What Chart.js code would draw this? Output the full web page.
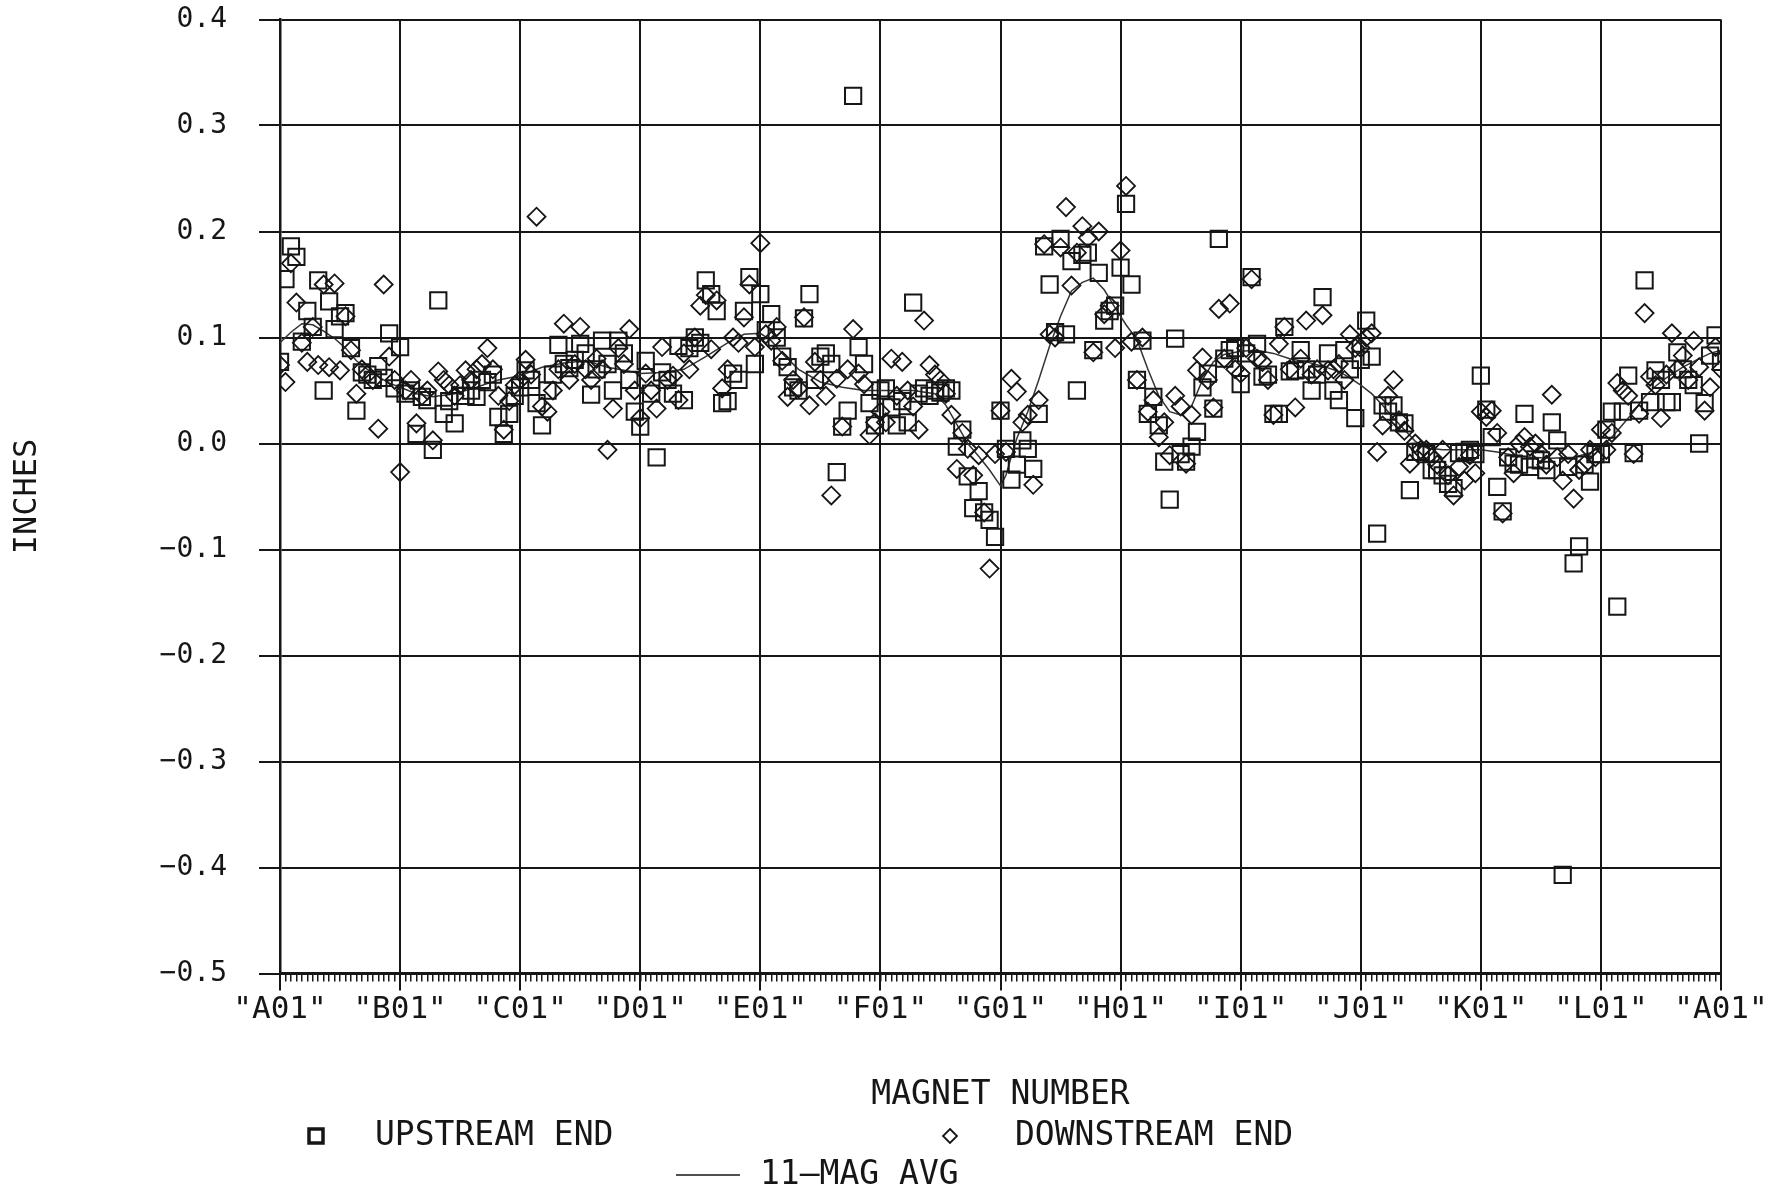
<!DOCTYPE html>
<html>
<head>
<meta charset="utf-8">
<script src="https://cdn.jsdelivr.net/npm/chart.js@4.4.0/dist/chart.umd.min.js"></script>
<style>
  html, body { margin: 0; padding: 0; background: #fff; }
  #wrap { width: 1783px; height: 1191px; }
</style>
</head>
<body>
<div id="wrap"><canvas id="chart" width="1783" height="1191"></canvas></div>
<script>
// Sector labels along the ring (A01 repeats at the end)
const sectorLabels = ['"A01"', '"B01"', '"C01"', '"D01"', '"E01"', '"F01"', '"G01"',
                      '"H01"', '"I01"', '"J01"', '"K01"', '"L01"', '"A01"'];
const magnetsPerSector = 22;

// Upstream end readings (inches), one per magnet, sector by sector
const upstream = [
  0.077, 0.155, 0.186, 0.176, 0.096, 0.125, 0.110, 0.154, 0.050, 0.134, 0.108, 0.120, 0.123, 0.090, 0.031, 0.067, 0.065, 0.060, 0.073, 0.062, 0.104, 0.052, // A
  0.091, 0.047, 0.050, 0.009, 0.044, 0.041, -0.006, 0.135, 0.028, 0.040, 0.019, 0.045, 0.045, 0.050, 0.044, 0.060, 0.058, 0.065, 0.025, 0.009, 0.028, 0.045, // B
  0.053, 0.069, 0.060, 0.038, 0.017, 0.050, 0.065, 0.093, 0.075, 0.071, 0.079, 0.094, 0.085, 0.046, 0.070, 0.097, 0.075, 0.050, 0.097, 0.085, 0.060, 0.030, // C
  0.016, 0.078, 0.047, -0.013, 0.067, 0.060, 0.047, 0.092, 0.041, 0.090, 0.100, 0.095, 0.154, 0.141, 0.125, 0.038, 0.040, 0.066, 0.060, 0.125, 0.157, 0.075, // D
  0.141, 0.107, 0.122, 0.100, 0.082, 0.072, 0.053, 0.050, 0.118, 0.141, 0.060, 0.082, 0.085, 0.075, -0.027, 0.016, 0.031, 0.328, 0.091, 0.075, 0.038, 0.017, // E
  0.050, 0.052, 0.034, 0.017, 0.040, 0.020, 0.133, 0.047, 0.052, 0.045, 0.050, 0.048, 0.052, 0.050, -0.003, 0.013, -0.031, -0.061, -0.045, -0.065, -0.072, -0.088, // F
  0.031, -0.005, -0.034, -0.020, 0.003, -0.005, -0.024, 0.028, 0.186, 0.150, 0.105, 0.193, 0.103, 0.172, 0.050, 0.178, 0.180, 0.088, 0.161, 0.116, 0.125, 0.130, // G
  0.166, 0.226, 0.150, 0.060, 0.097, 0.028, 0.044, 0.017, -0.017, -0.053, 0.099, -0.010, -0.017, -0.003, 0.011, 0.053, 0.066, 0.033, 0.193, 0.080, 0.088, 0.090, // H
  0.056, 0.085, 0.157, 0.094, 0.063, 0.065, 0.028, 0.028, 0.110, 0.068, 0.069, 0.088, 0.070, 0.050, 0.065, 0.138, 0.085, 0.050, 0.041, 0.088, 0.070, 0.024, // I
  0.079, 0.116, 0.082, -0.085, 0.036, 0.030, 0.036, 0.020, 0.019, -0.044, -0.008, -0.008, -0.010, -0.025, -0.025, -0.030, -0.038, -0.042, -0.009, -0.008, -0.006, -0.010, // J
  0.064, 0.032, 0.006, -0.041, -0.064, -0.013, -0.019, -0.020, 0.028, -0.022, -0.015, -0.016, -0.025, 0.020, 0.003, -0.407, -0.022, -0.113, -0.097, -0.020, -0.036, -0.010, // K
  -0.010, 0.013, 0.030, -0.154, 0.030, 0.064, -0.009, 0.031, 0.154, 0.039, 0.069, 0.060, 0.039, 0.039, 0.086, 0.070, 0.060, 0.055, 0.000, 0.038, 0.083, 0.102, // L
  0.077 // A01 again
];

// Downstream end readings (inches)
const downstream = [
  0.074, 0.058, 0.170, 0.133, 0.095, 0.077, 0.110, 0.074, 0.150, 0.072, 0.151, 0.069, 0.120, 0.088, 0.047, 0.070, 0.065, 0.060, 0.014, 0.150, 0.082, 0.060, // A
  -0.027, 0.050, 0.060, 0.019, 0.045, 0.050, 0.003, 0.068, 0.060, 0.055, 0.045, 0.055, 0.069, 0.060, 0.070, 0.075, 0.090, 0.070, 0.045, 0.013, 0.040, 0.055, // B
  0.060, 0.079, 0.065, 0.214, 0.035, 0.030, 0.050, 0.070, 0.113, 0.060, 0.075, 0.110, 0.070, 0.060, 0.080, 0.070, -0.006, 0.033, 0.090, 0.075, 0.108, 0.050, // C
  0.024, 0.066, 0.050, 0.033, 0.091, 0.060, 0.064, 0.041, 0.085, 0.070, 0.100, 0.130, 0.140, 0.089, 0.135, 0.052, 0.070, 0.100, 0.095, 0.119, 0.150, 0.091, // D
  0.189, 0.103, 0.097, 0.110, 0.078, 0.044, 0.060, 0.052, 0.119, 0.036, 0.077, 0.060, 0.045, -0.049, 0.061, 0.016, 0.070, 0.108, 0.066, 0.056, 0.008, 0.020, // E
  0.030, 0.020, 0.080, 0.045, 0.077, 0.050, 0.035, 0.013, 0.116, 0.074, 0.065, 0.060, 0.047, 0.027, -0.024, 0.010, -0.005, -0.030, -0.011, -0.065, -0.118, -0.010, // F
  0.031, -0.008, 0.061, 0.049, 0.020, 0.027, -0.039, 0.041, 0.188, 0.103, 0.100, 0.185, 0.223, 0.149, 0.180, 0.205, 0.194, 0.086, 0.200, 0.122, 0.130, 0.090, // G
  0.182, 0.243, 0.096, 0.060, 0.100, 0.030, 0.041, 0.006, 0.020, -0.011, 0.045, 0.035, -0.019, 0.027, 0.069, 0.081, 0.060, 0.034, 0.127, 0.080, 0.132, 0.070, // H
  0.066, 0.090, 0.155, 0.080, 0.077, 0.060, 0.027, 0.094, 0.110, 0.070, 0.034, 0.080, 0.116, 0.065, 0.070, 0.121, 0.069, 0.070, 0.075, 0.060, 0.103, 0.090, // I
  0.090, 0.100, 0.104, -0.008, 0.017, 0.045, 0.060, 0.022, 0.012, -0.019, 0.000, -0.006, -0.006, -0.013, -0.020, -0.006, -0.030, -0.049, -0.022, -0.035, -0.011, -0.028, // J
  0.030, 0.025, 0.031, 0.010, -0.066, -0.013, -0.028, 0.000, 0.006, -0.003, 0.000, -0.010, -0.020, 0.046, -0.013, -0.035, -0.010, -0.052, -0.025, -0.020, -0.006, -0.013, // K
  0.013, -0.006, 0.010, 0.057, 0.050, 0.045, -0.010, 0.028, 0.123, 0.063, 0.055, 0.024, 0.065, 0.104, 0.070, 0.083, 0.060, 0.097, 0.072, 0.031, 0.053, 0.091, // L
  0.070 // A01 again
];

// 11-magnet running average
const avgIdx = [0, 2, 4, 6, 8, 10, 12, 14, 16, 18, 20, 22, 25, 28, 32, 36, 40, 44, 48, 52, 56,
  60, 63, 66, 70, 74, 78, 82, 85, 88, 90, 92, 95, 99, 103, 107, 111, 116, 120, 122, 124,
  126, 128, 130, 132, 133, 134, 135, 137, 139, 141, 143, 145, 147, 149, 151, 153, 155, 157, 159, 161,
  163, 165, 167, 169, 171, 173, 176, 179, 182, 185, 188, 191, 194, 196, 198, 200, 202, 204, 206, 208,
  210, 213, 216, 220, 223, 226, 229, 233, 237, 240, 242, 244, 246, 248, 250, 252, 254, 257, 260, 262, 264];
const avgVal = [0.095, 0.105, 0.113, 0.112, 0.106, 0.099, 0.090, 0.078, 0.070, 0.063, 0.057,
  0.053, 0.047, 0.044, 0.047, 0.053, 0.060, 0.064, 0.072, 0.076, 0.078,
  0.072, 0.069, 0.066, 0.067, 0.070, 0.082, 0.095, 0.103, 0.104, 0.097,
  0.085, 0.070, 0.058, 0.053, 0.050, 0.050, 0.050, 0.047, 0.036, 0.018,
  0.000, -0.012, -0.025, -0.040, -0.030, -0.012, 0.005, 0.030, 0.060, 0.092,
  0.120, 0.144, 0.152, 0.156, 0.145, 0.128, 0.112, 0.098, 0.070, 0.045,
  0.030, 0.027, 0.035, 0.060, 0.077, 0.084, 0.087, 0.088, 0.085, 0.080,
  0.077, 0.073, 0.068, 0.062, 0.055, 0.047, 0.036, 0.024, 0.013, 0.002,
  -0.004, -0.006, -0.006, -0.006, -0.008, -0.011, -0.013, -0.014, -0.013, -0.009,
  -0.003, 0.006, 0.018, 0.030, 0.044, 0.054, 0.062, 0.072, 0.080, 0.085, 0.088];

const INK = '#161616';
const FONT = '"DejaVu Sans Mono", "Liberation Mono", monospace';

// Legend drawn under the axis title, like the plotter output
const bottomLegend = {
  id: 'bottomLegend',
  afterDraw(chart) {
    const ctx = chart.ctx;
    ctx.save();
    ctx.fillStyle = INK;
    ctx.strokeStyle = INK;
    ctx.font = '33px ' + FONT;
    ctx.textBaseline = 'middle';
    ctx.textAlign = 'left';

    // upstream square
    ctx.lineWidth = 3.5;
    ctx.strokeRect(309, 1129, 14, 14);
    ctx.fillText('UPSTREAM END', 375, 1136);

    // downstream diamond
    ctx.lineWidth = 1.8;
    ctx.beginPath();
    ctx.moveTo(950, 1129);
    ctx.lineTo(957, 1136);
    ctx.lineTo(950, 1143);
    ctx.lineTo(943, 1136);
    ctx.closePath();
    ctx.stroke();
    ctx.fillText('DOWNSTREAM END', 1015, 1136);

    // running average line
    ctx.lineWidth = 1.5;
    ctx.beginPath();
    ctx.moveTo(676, 1175);
    ctx.lineTo(740, 1175);
    ctx.stroke();
    ctx.fillText('11\u2014MAG AVG', 760, 1175);
    ctx.restore();
  }
};

function fmtInches(v) {
  const r = Math.round(v * 10) / 10;
  if (Math.abs(r) < 1e-9) return '0.0';
  return (r < 0 ? '\u2212' : '') + Math.abs(r).toFixed(1);
}

const ctx = document.getElementById('chart').getContext('2d');
new Chart(ctx, {
  type: 'scatter',
  data: {
    datasets: [
      {
        label: 'UPSTREAM END',
        data: upstream.map((v, i) => ({ x: i, y: v })),
        pointStyle: 'rect',
        pointRadius: 11.5,
        borderColor: INK,
        borderWidth: 2,
        backgroundColor: 'rgba(0,0,0,0)',
      },
      {
        label: 'DOWNSTREAM END',
        data: downstream.map((v, i) => ({ x: i, y: v })),
        pointStyle: 'rectRot',
        pointRadius: 9,
        borderColor: INK,
        borderWidth: 1.8,
        backgroundColor: 'rgba(0,0,0,0)',
      },
      {
        type: 'line',
        label: '11-MAG AVG',
        data: avgIdx.map((x, i) => ({ x: x, y: avgVal[i] })),
        borderColor: '#333333',
        borderWidth: 1.5,
        pointRadius: 0,
        tension: 0,
        fill: false,
      }
    ]
  },
  options: {
    responsive: false,
    animation: false,
    devicePixelRatio: 1,
    events: [],
    layout: { padding: { top: 19.5, right: 62, bottom: 0, left: 0 } },
    plugins: {
      legend: { display: false },
      tooltip: { enabled: false },
    },
    scales: {
      x: {
        type: 'linear',
        position: 'bottom',
        weight: 1,
        min: 0,
        max: magnetsPerSector * 12,
        afterFit: (scale) => {
          scale.height = 217.5;
          scale.paddingLeft = 0;
          scale.paddingRight = 0;
        },
        ticks: {
          stepSize: magnetsPerSector,
          autoSkip: false,
          maxRotation: 0,
          padding: 1,
          color: INK,
          font: { family: FONT, size: 31 },
          callback: (v) => sectorLabels[Math.round(v / magnetsPerSector)],
        },
        grid: { color: INK, lineWidth: 2, tickLength: 17 },
        border: { color: INK, width: 3 },
        title: {
          display: true,
          text: 'MAGNET NUMBER',
          color: INK,
          font: { family: FONT, size: 33 },
          padding: { top: 0, bottom: 76 },
        },
      },
      xMinor: {
        type: 'linear',
        axis: 'x',
        position: 'bottom',
        weight: 0,
        min: 0,
        max: magnetsPerSector * 12,
        afterFit: (scale) => {
          scale.height = 0;
          scale.paddingLeft = 0;
          scale.paddingRight = 0;
        },
        ticks: { stepSize: 1, display: false, autoSkip: false },
        grid: { drawOnChartArea: false, color: INK, lineWidth: 1.5, tickLength: 8 },
        border: { display: false },
      },
      y: {
        min: -0.5,
        max: 0.4,
        afterFit: (scale) => {
          scale.width = 280;
          scale.paddingTop = 0;
          scale.paddingBottom = 0;
        },
        ticks: {
          stepSize: 0.1,
          padding: 32,
          color: INK,
          font: { family: FONT, size: 28 },
          callback: fmtInches,
        },
        grid: { color: INK, lineWidth: 2, tickLength: 21 },
        border: { color: INK, width: 2.5 },
        title: {
          display: true,
          text: 'INCHES',
          color: INK,
          font: { family: FONT, size: 32 },
          padding: { top: 8, bottom: 0 },
        },
      },
    },
  },
  plugins: [bottomLegend],
});
</script>
</body>
</html>
